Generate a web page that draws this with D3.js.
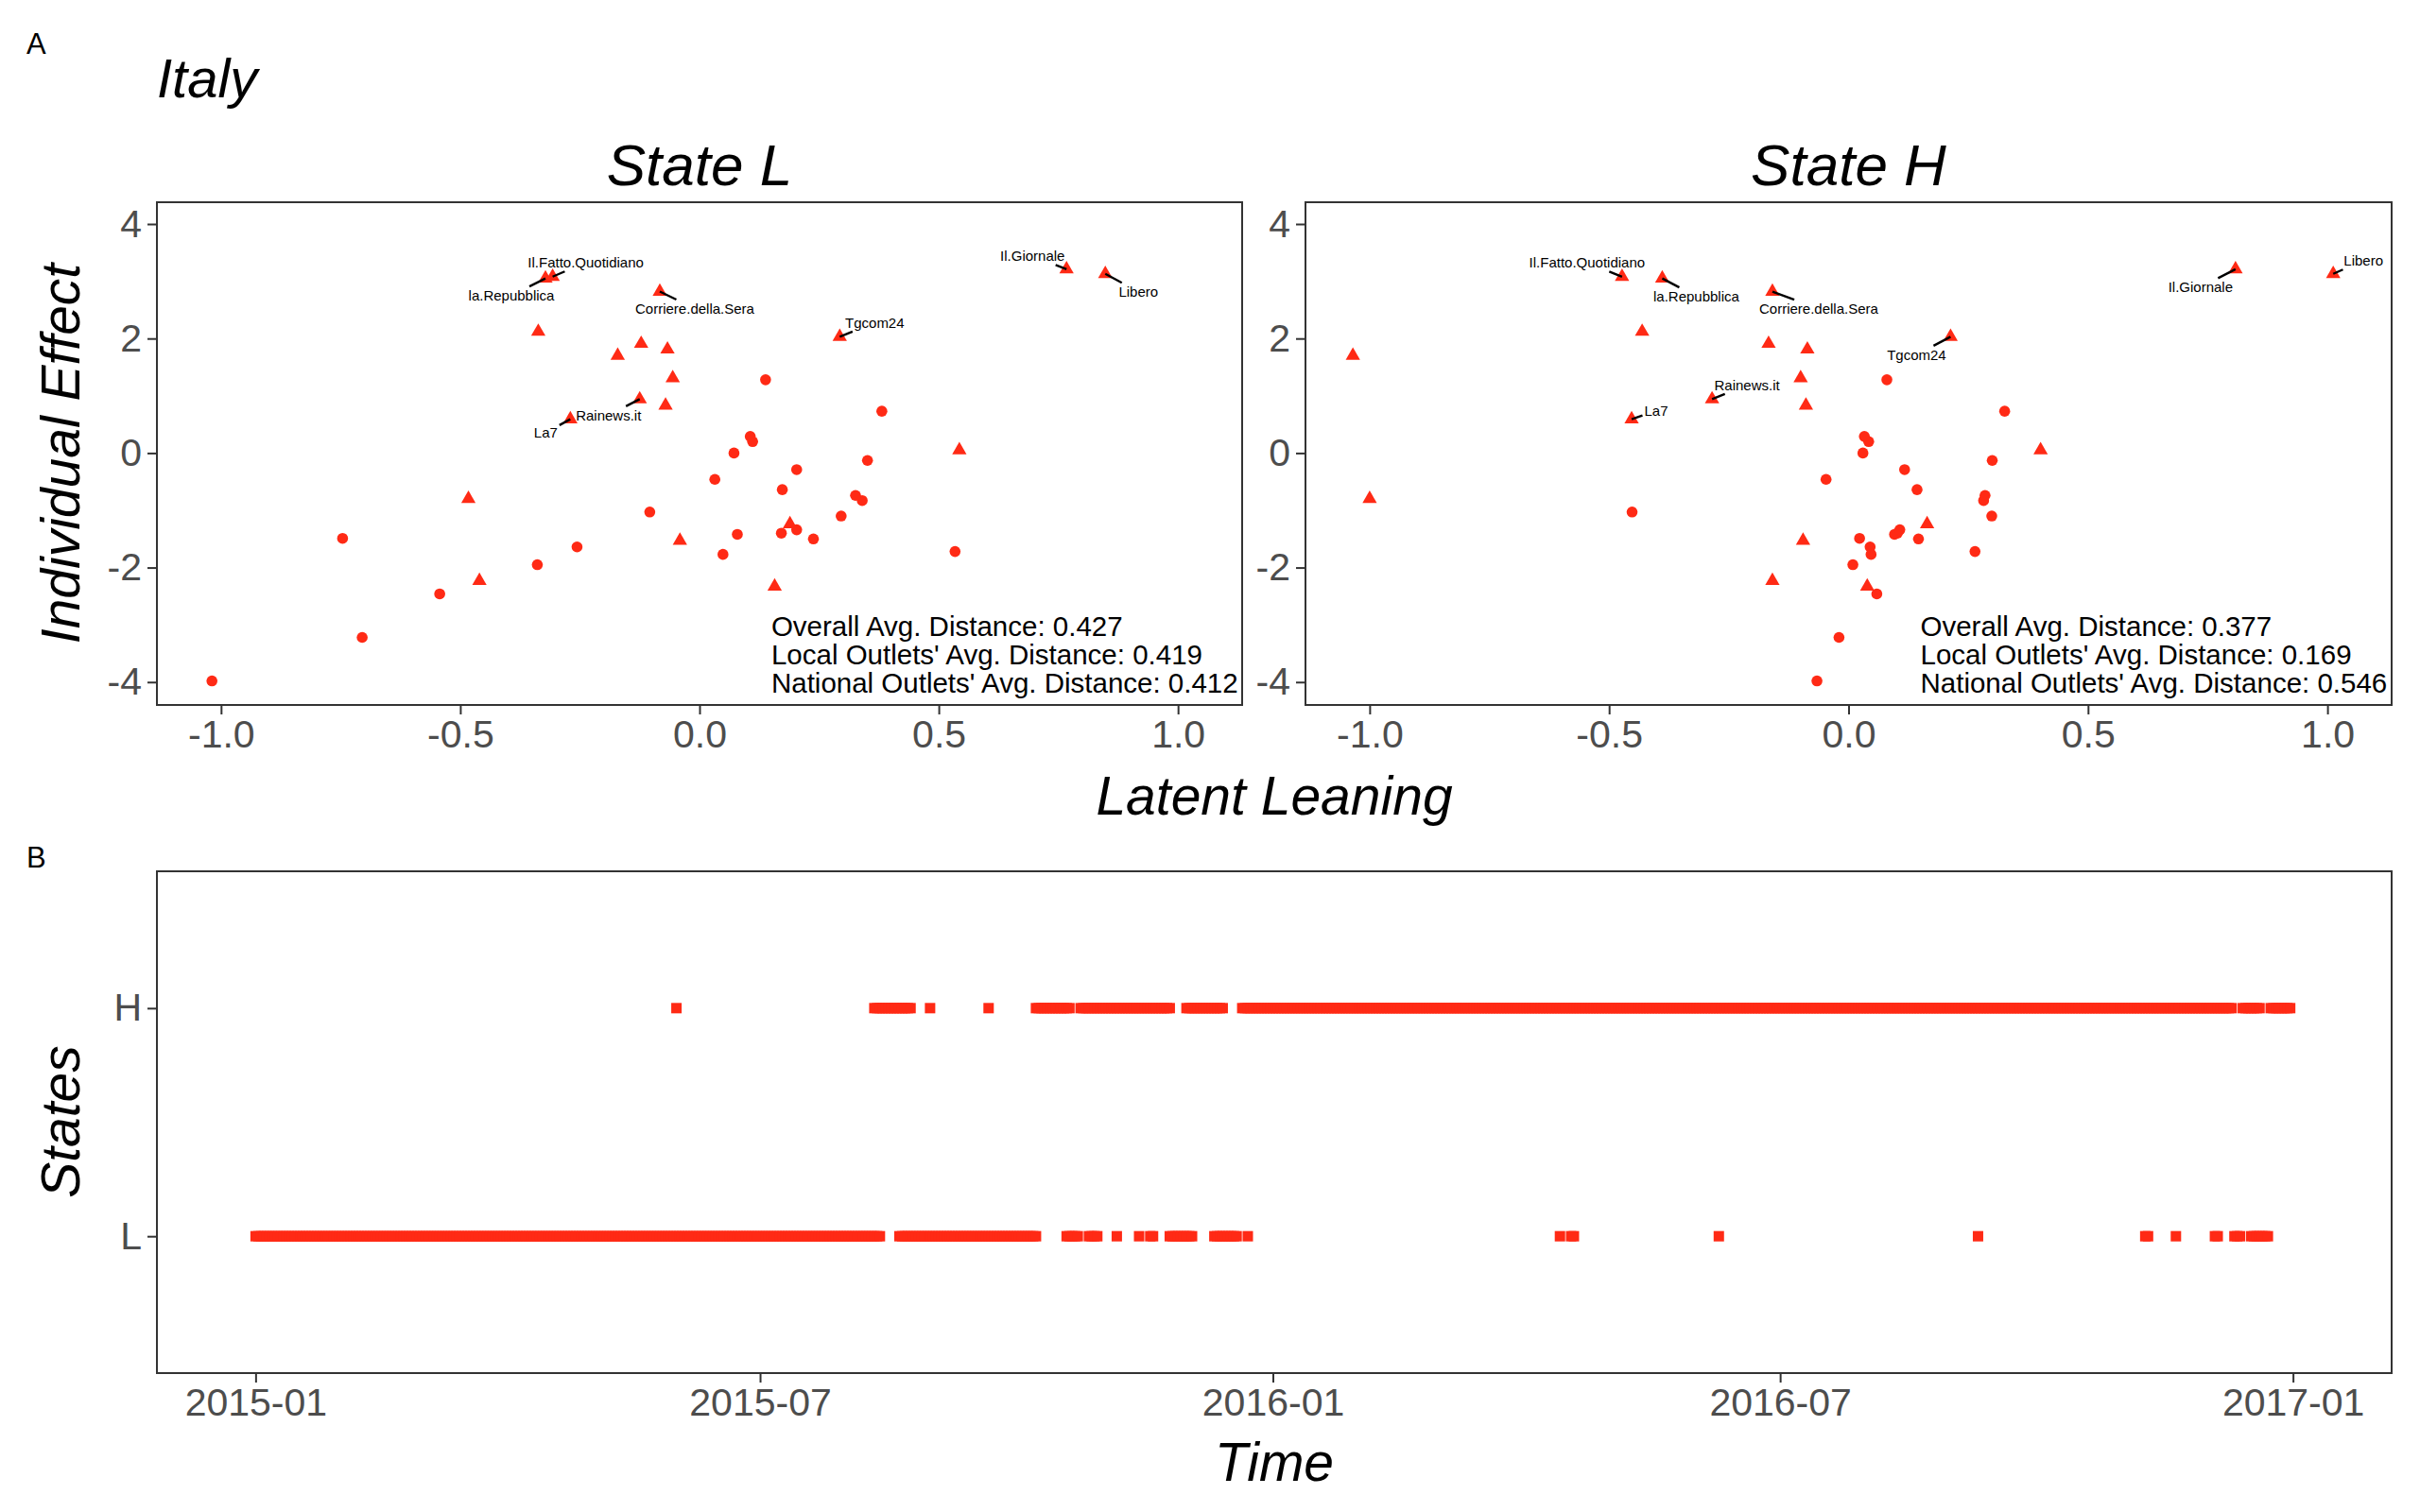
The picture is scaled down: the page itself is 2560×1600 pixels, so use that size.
<!DOCTYPE html>
<html lang="en">
<head>
<meta charset="UTF-8">
<title>Italy - Latent Leaning by State</title>
<script src="https://d3js.org/d3.v7.min.js"></script>
<style>
  html, body { margin: 0; padding: 0; background: #ffffff; }
  svg { display: block; font-family: "Liberation Sans", Arial, Helvetica, sans-serif; }
</style>
</head>
<body>
<div id="chart"></div>
<script>
// ---- data ----
// national outlets (triangles); same individual effect in both states
const nationalNames = ["Il.Fatto.Quotidiano", "la.Repubblica", "Corriere.della.Sera", "Il.Giornale", "Libero",
  "Tgcom24", "Rainews.it", "La7", "", "", "", "", "", "", "", "", "", "", "", ""];
const nationalEffect = [3.08, 3.05, 2.82, 3.21, 3.13, 2.03, 0.94, 0.59, 2.12, 1.70, 1.91, 1.81, 1.31, 0.83,
  -0.80, -2.23, -1.53, -2.33, -1.24, 0.05];
const nationalLeanL = [-0.307, -0.322, -0.083, 0.767, 0.848, 0.293, -0.125, -0.270, -0.337, -0.171, -0.122,
  -0.067, -0.056, -0.071, -0.483, -0.460, -0.041, 0.157, 0.189, 0.543];
const nationalLeanH = [-0.473, -0.389, -0.159, 0.808, 1.012, 0.213, -0.285, -0.453, -0.431, -1.035, -0.167,
  -0.086, -0.100, -0.089, -1.000, -0.159, -0.095, 0.039, 0.164, 0.401];

// local outlets (circles)
const localEffect = [-3.98, -3.22, -2.46, -1.95, -1.77, -1.72, -1.64, -1.50, -1.49, -1.42, -1.40, -1.34, -1.10,
  -1.03, -0.83, -0.74, -0.64, -0.46, -0.29, -0.13, 0.00, 0.20, 0.29, 0.73, 1.28];
const localLeanL = [-1.019, -0.705, -0.543, -0.339, 0.049, 0.534, -0.256, 0.238, -0.746, 0.079, 0.171, 0.203,
  0.296, -0.104, 0.340, 0.326, 0.173, 0.032, 0.203, 0.351, 0.072, 0.111, 0.106, 0.381, 0.138];
const localLeanH = [-0.066, -0.020, 0.059, 0.009, 0.047, 0.264, 0.045, 0.146, 0.023, 0.096, 0.102, 0.107,
  0.299, -0.452, 0.282, 0.285, 0.143, -0.047, 0.117, 0.300, 0.030, 0.042, 0.033, 0.326, 0.080];

const distanceNames = ["Overall Avg. Distance: ", "Local Outlets' Avg. Distance: ", "National Outlets' Avg. Distance: "];
const distanceL = ["0.427", "0.419", "0.412"];
const distanceH = ["0.377", "0.169", "0.546"];

const leaningTicks = [-1.0, -0.5, 0.0, 0.5, 1.0];
const effectTicks = [-4, -2, 0, 2, 4];

// panel B: days spent in each state, as date runs
const stateLevels = ["H", "L"];
const hRuns = [
  ["2015-06-01", "2015-06-01"], ["2015-08-11", "2015-08-24"], ["2015-08-31", "2015-08-31"],
  ["2015-09-21", "2015-09-21"], ["2015-10-08", "2015-10-20"], ["2015-10-24", "2015-11-25"],
  ["2015-12-01", "2015-12-14"], ["2015-12-21", "2016-12-10"], ["2016-12-14", "2016-12-20"],
  ["2016-12-24", "2016-12-31"]
];
const lRuns = [
  ["2015-01-01", "2015-08-13"], ["2015-08-20", "2015-10-08"], ["2015-10-19", "2015-10-23"],
  ["2015-10-27", "2015-10-30"], ["2015-11-06", "2015-11-06"], ["2015-11-14", "2015-11-14"],
  ["2015-11-18", "2015-11-19"], ["2015-11-25", "2015-12-03"], ["2015-12-11", "2015-12-19"],
  ["2015-12-23", "2015-12-23"], ["2016-04-13", "2016-04-13"], ["2016-04-17", "2016-04-18"],
  ["2016-06-09", "2016-06-09"], ["2016-09-10", "2016-09-10"], ["2016-11-09", "2016-11-10"],
  ["2016-11-20", "2016-11-20"], ["2016-12-04", "2016-12-05"], ["2016-12-11", "2016-12-13"],
  ["2016-12-17", "2016-12-23"]
];
const timeTicks = ["2015-01-01", "2015-07-01", "2016-01-01", "2016-07-01", "2017-01-01"];

// ---- layout ----
const W = 2560, H = 1600;
const red = "#FF2A15";
const tickColor = "#4D4D4D";
const frameColor = "#333333";
const italic = "italic";

const topY = [214, 746];
const panels = [
  { key: "L", title: "State L", x: [166, 1314], lean: [nationalLeanL, localLeanL], dist: distanceL },
  { key: "H", title: "State H", x: [1381, 2530], lean: [nationalLeanH, localLeanH], dist: distanceH }
];

// label centre offsets from the point (px), like ggrepel placed them
const labelOffsets = {
  L: { "Il.Fatto.Quotidiano": [35, -15], "la.Repubblica": [-36, 18], "Corriere.della.Sera": [37, 18],
       "Il.Giornale": [-36, -14], "Libero": [35, 19], "Tgcom24": [37, -15], "Rainews.it": [-33, 17], "La7": [-26, 14] },
  H: { "Il.Fatto.Quotidiano": [-37, -15], "la.Repubblica": [36, 19], "Corriere.della.Sera": [49, 18],
       "Il.Giornale": [-37, 19], "Libero": [32, -14], "Tgcom24": [-36, 19], "Rainews.it": [37, -15], "La7": [26, -9] }
};

// ggplot prints an ASCII hyphen for negatives
const hyphen = f => v => f(v).replace("\u2212", "-");

const svg = d3.select("#chart").append("svg")
  .attr("width", W).attr("height", H)
  .attr("viewBox", `0 0 ${W} ${H}`);

svg.append("rect").attr("width", W).attr("height", H).attr("fill", "#fff");

// tag letters and country title
svg.append("text").attr("x", 28).attr("y", 57).attr("font-size", 31).text("A");
svg.append("text").attr("x", 28).attr("y", 918).attr("font-size", 31).text("B");
svg.append("text").attr("x", 166).attr("y", 103).attr("font-size", 58)
  .attr("font-style", italic).text("Italy");

const yEffect = d3.scaleLinear().domain([-4.40, 4.38]).range([topY[1], topY[0]]);

function styleAxis(g, size) {
  g.select(".domain").remove();
  g.selectAll(".tick line").attr("stroke", frameColor).attr("stroke-width", 2);
  g.selectAll(".tick text").attr("fill", tickColor).attr("font-size", size)
    .attr("font-family", "'Liberation Sans', Arial, Helvetica, sans-serif");
}

panels.forEach(p => {
  const x = d3.scaleLinear().domain([-1.134, 1.134]).range(p.x);
  const g = svg.append("g");

  // facet title
  g.append("text")
    .attr("x", (p.x[0] + p.x[1]) / 2).attr("y", 196)
    .attr("text-anchor", "middle").attr("font-size", 62).attr("font-style", italic)
    .text(p.title);

  // axes
  g.append("g").attr("transform", `translate(0,${topY[1]})`)
    .call(d3.axisBottom(x).tickValues(leaningTicks).tickFormat(hyphen(d3.format(".1f"))).tickSize(10).tickPadding(6))
    .call(a => styleAxis(a, 41));
  g.append("g").attr("transform", `translate(${p.x[0]},0)`)
    .call(d3.axisLeft(yEffect).tickValues(effectTicks).tickFormat(hyphen(d3.format("d"))).tickSize(10).tickPadding(6))
    .call(a => styleAxis(a, 41));

  // points
  const natData = nationalEffect.map((e, i) => ({ name: nationalNames[i], x: p.lean[0][i], y: e }));
  const locData = localEffect.map((e, i) => ({ x: p.lean[1][i], y: e }));

  g.append("g").selectAll("circle").data(locData).join("circle")
    .attr("cx", d => x(d.x)).attr("cy", d => yEffect(d.y)).attr("r", 5.8)
    .attr("fill", red);

  g.append("g").selectAll("path").data(natData).join("path")
    .attr("d", d3.symbol().type(d3.symbolTriangle).size(100))
    .attr("transform", d => `translate(${x(d.x)},${yEffect(d.y)})`)
    .attr("fill", red);

  // repelled labels with leader segments
  const labelled = natData.filter(d => d.name);
  const lab = g.append("g");
  labelled.forEach(d => {
    const px = x(d.x), py = yEffect(d.y);
    const off = labelOffsets[p.key][d.name];
    const cx = px + off[0], cy = py + off[1];
    const t = lab.append("text")
      .attr("x", cx).attr("y", cy).attr("dy", "0.35em")
      .attr("text-anchor", "middle").attr("font-size", 15)
      .text(d.name);
    const b = t.node().getBBox();
    const hw = b.width / 2 + 2, hh = b.height / 2 + 1;
    const dx = px - cx, dy = py - cy;
    const tt = Math.min(dx ? hw / Math.abs(dx) : Infinity, dy ? hh / Math.abs(dy) : Infinity);
    if (tt < 1) {
      lab.insert("line", "text")
        .attr("x1", px).attr("y1", py)
        .attr("x2", cx + dx * tt).attr("y2", cy + dy * tt)
        .attr("stroke", "#000").attr("stroke-width", 2.4);
    }
  });

  // distance annotations
  const ann = g.append("g");
  distanceNames.forEach((n, i) => {
    ann.append("text")
      .attr("x", x(0.15)).attr("y", topY[1] - 73 + i * 29.8)
      .attr("font-size", 29.5).attr("fill", "#000")
      .text(n + p.dist[i]);
  });

  // panel border
  g.append("rect")
    .attr("x", p.x[0]).attr("y", topY[0])
    .attr("width", p.x[1] - p.x[0]).attr("height", topY[1] - topY[0])
    .attr("fill", "none").attr("stroke", frameColor).attr("stroke-width", 2);
});

// shared axis titles for panel A
svg.append("text").attr("x", 1348).attr("y", 862).attr("text-anchor", "middle")
  .attr("font-size", 57).attr("font-style", italic).text("Latent Leaning");
svg.append("text").attr("transform", "translate(84,480) rotate(-90)").attr("text-anchor", "middle")
  .attr("font-size", 57).attr("font-style", italic).text("Individual Effect");

// ---- panel B: state sequence ----
const bX = [166, 2530], bY = [922, 1453];
const parse = d3.utcParse("%Y-%m-%d");
const pad = 35.4 * 864e5;
const xTime = d3.scaleUtc()
  .domain([new Date(parse("2015-01-01").getTime() - pad), new Date(parse("2017-01-01").getTime() + pad)])
  .range(bX);
const yState = d3.scalePoint().domain(stateLevels).range(bY).padding(0.6);

const gb = svg.append("g");
gb.append("g").attr("transform", `translate(0,${bY[1]})`)
  .call(d3.axisBottom(xTime).tickValues(timeTicks.map(parse)).tickFormat(d3.utcFormat("%Y-%m")).tickSize(10).tickPadding(6))
  .call(a => styleAxis(a, 41));
gb.append("g").attr("transform", `translate(${bX[0]},0)`)
  .call(d3.axisLeft(yState).tickSize(10).tickPadding(6))
  .call(a => styleAxis(a, 41));

const days = [];
[["H", hRuns], ["L", lRuns]].forEach(([s, runs]) => {
  runs.forEach(r => {
    d3.utcDay.range(parse(r[0]), d3.utcDay.offset(parse(r[1]), 1))
      .forEach(d => days.push({ date: d, state: s }));
  });
});
const sq = 11;
gb.append("g").selectAll("rect").data(days).join("rect")
  .attr("x", d => xTime(d.date) - sq / 2).attr("y", d => yState(d.state) - sq / 2)
  .attr("width", sq).attr("height", sq)
  .attr("fill", red);

gb.append("rect")
  .attr("x", bX[0]).attr("y", bY[0]).attr("width", bX[1] - bX[0]).attr("height", bY[1] - bY[0])
  .attr("fill", "none").attr("stroke", frameColor).attr("stroke-width", 2);

svg.append("text").attr("x", 1348).attr("y", 1567).attr("text-anchor", "middle")
  .attr("font-size", 57).attr("font-style", italic).text("Time");
svg.append("text").attr("transform", "translate(84,1187) rotate(-90)").attr("text-anchor", "middle")
  .attr("font-size", 57).attr("font-style", italic).text("States");
</script>
</body>
</html>
